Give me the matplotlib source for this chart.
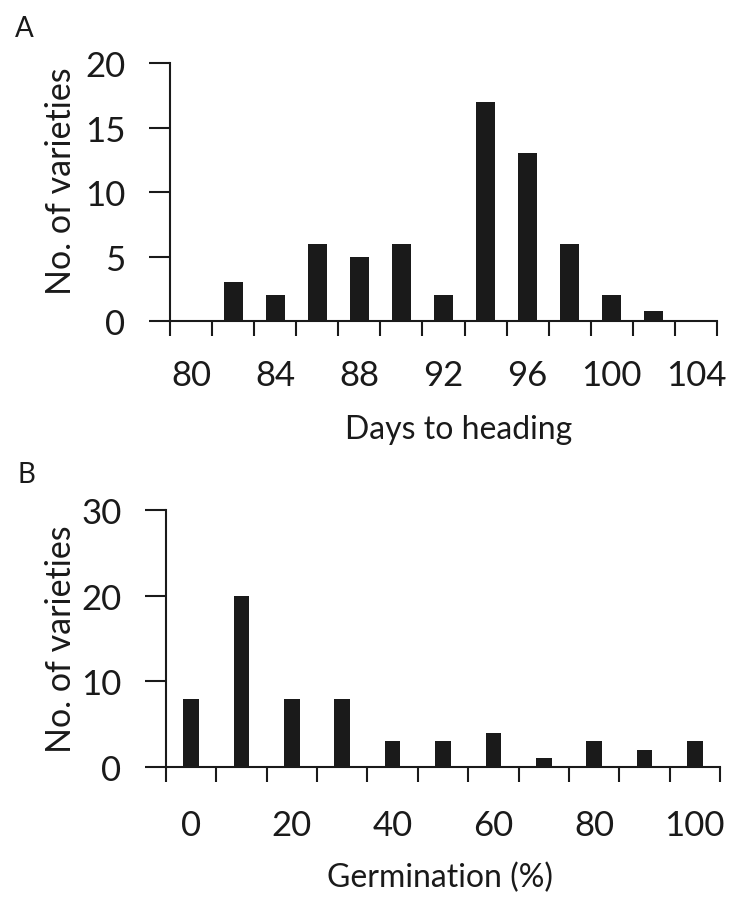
import matplotlib
matplotlib.use("Agg")
import matplotlib.pyplot as plt
import numpy as np

plt.rcParams['font.family'] = ['Lato', 'DejaVu Sans']

# panel A: days to heading
days = [80, 82, 84, 86, 88, 90, 92, 94, 96, 98, 100, 102, 104]
days_count = [0, 3, 2, 6, 5, 6, 2, 17, 13, 6, 2, 0.8, 0]
days_labels = ["80", "84", "88", "92", "96", "100", "104"]

# panel B: germination
germ = [0, 10, 20, 30, 40, 50, 60, 70, 80, 90, 100]
germ_count = [8, 20, 8, 8, 3, 3, 4, 1, 3, 2, 3]
germ_labels = ["0", "20", "40", "60", "80", "100"]

TICK_FS = 25
INK = "#1a1a1a"


def panel(ax, cats, vals, labels, width, ymax, ystep, xlabel, xpad, lpad, xlab_x, ylab_xy):
    x = np.arange(len(cats))
    ax.bar(x, vals, width=width, color=INK, zorder=3)
    ax.set_xlim(-0.5, len(cats) - 0.5)
    ax.set_ylim(0, ymax)
    ax.set_yticks(np.arange(0, ymax + 1, ystep))
    # boundary ticks between categories, labels on every 2nd category
    ax.set_xticks(np.arange(-0.5, len(cats)))
    ax.set_xticklabels([])
    ax.set_xticks(x[::2], minor=True)
    ax.set_xticklabels(labels, minor=True)
    ax.tick_params(axis="x", which="major", direction="out", length=11, width=1.5, color=INK)
    ax.tick_params(axis="x", which="minor", length=0, pad=xpad, labelsize=TICK_FS, labelcolor=INK)
    ax.tick_params(axis="y", direction="out", length=15, width=1.5, pad=17,
                   labelsize=TICK_FS, color=INK, labelcolor=INK)
    for s in ["top", "right"]:
        ax.spines[s].set_visible(False)
    for s in ["left", "bottom"]:
        ax.spines[s].set_linewidth(1.5)
        ax.spines[s].set_color(INK)
    ax.set_ylabel("No. of varieties", fontsize=24.5, color=INK)
    ax.yaxis.set_label_coords(*ylab_xy)
    ax.set_xlabel(xlabel, fontsize=23, color=INK, labelpad=lpad)
    ax.xaxis.label.set_x(xlab_x)


fig = plt.figure(figsize=(7.38, 9.04), dpi=100)
axA = fig.add_axes([0.2304, 0.6438, 0.9715 - 0.2304, 0.9292 - 0.6438])
axB = fig.add_axes([0.225, 0.1504, 0.9756 - 0.225, 0.4347 - 0.1504])

panel(axA, days, days_count, days_labels, 0.45, 20, 5, "Days to heading", 27, 17, 0.527, (-0.170, 0.547))
panel(axB, germ, germ_count, germ_labels, 0.31, 30, 10, "Germination (%)", 30, 15, 0.495, (-0.161, 0.5))

fig.text(15 / 738, 1 - 37 / 904, "A", fontsize=20, color=INK)
fig.text(17 / 738, 1 - 483 / 904, "B", fontsize=20, color=INK)

fig.savefig("out.png", dpi=100)
